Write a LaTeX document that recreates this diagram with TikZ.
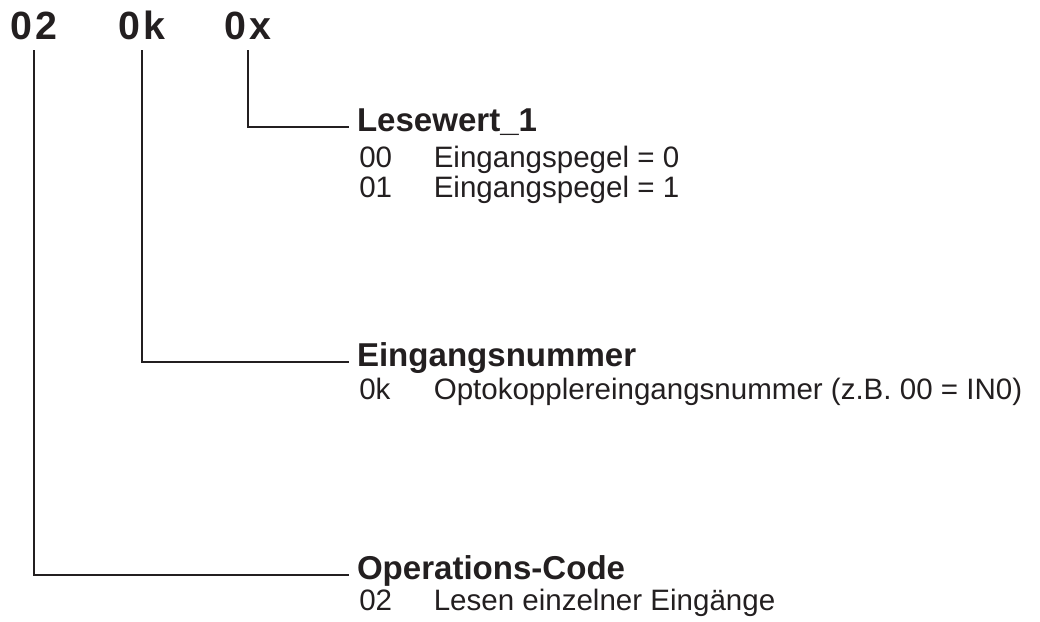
\documentclass[tikz,border=0pt]{standalone}
\usepackage{fontspec}
\setmainfont{Liberation Sans}
\usepackage{tikz}
\usetikzlibrary{positioning}
\usepackage{xcolor}
\definecolor{FrameInk}{HTML}{231F20}
\tikzset{
    % Node styles
    codebox/.style={
        anchor=south,
        inner xsep=0pt,
        inner ysep=7.6pt,
        text depth=0pt,
        font=\fontsize{28}{32}\selectfont\bfseries,
        text=FrameInk
    },
    titlebox/.style={
        anchor=west,
        inner xsep=5.5pt,
        inner ysep=0pt,
        text height=6pt,
        text depth=0pt,
        font=\fontsize{23.5}{28}\selectfont\bfseries,
        text=FrameInk
    },
    itembox/.style={
        anchor=base west,
        inner sep=0pt,
        font=\fontsize{21}{24}\selectfont,
        text=FrameInk
    },
    % Line styles
    leader/.style={
        draw=FrameInk,
        line width=1.6pt
    }
}
\begin{document}
\begin{tikzpicture}[x=0.025cm,y=-0.025cm]
    \useasboundingbox (0,0) rectangle (1040,621);

    % Code fields
    \node[codebox] (op) at (34,50) {0\kern2pt 2};
    \node[codebox] (in) at (142,50) {0\kern2pt k};
    \node[codebox] (rv) at (248,50) {0\kern2pt x};

    % Field titles
    \node[titlebox] (rvtitle) at (349,127) {Lesewert\_1};
    \node[titlebox] (intitle) at (349,362) {Eingangsnummer};
    \node[titlebox] (optitle) at (349,575) {Operations-Code};

    % Values
    \node[itembox] (rv0) at (359,167) {00};
    \node[itembox] (rv0txt) at (433.5,167) {Eingangspegel = 0};
    \node[itembox] (rv1) at (359,197) {01};
    \node[itembox] (rv1txt) at (433.5,197) {Eingangspegel = 1};
    \node[itembox] (in0) at (359,399) {0k};
    \node[itembox] (in0txt) at (433.5,399) {Optokopplereingangsnummer (z.B. 00 = IN0)};
    \node[itembox] (op0) at (359,610) {02};
    \node[itembox] (op0txt) at (433.5,610) {Lesen einzelner Eingänge};

    % Leaders
    \draw[leader] (rv.south) |- (rvtitle.west);
    \draw[leader] (in.south) |- (intitle.west);
    \draw[leader] (op.south) |- (optitle.west);
\end{tikzpicture}
\end{document}
